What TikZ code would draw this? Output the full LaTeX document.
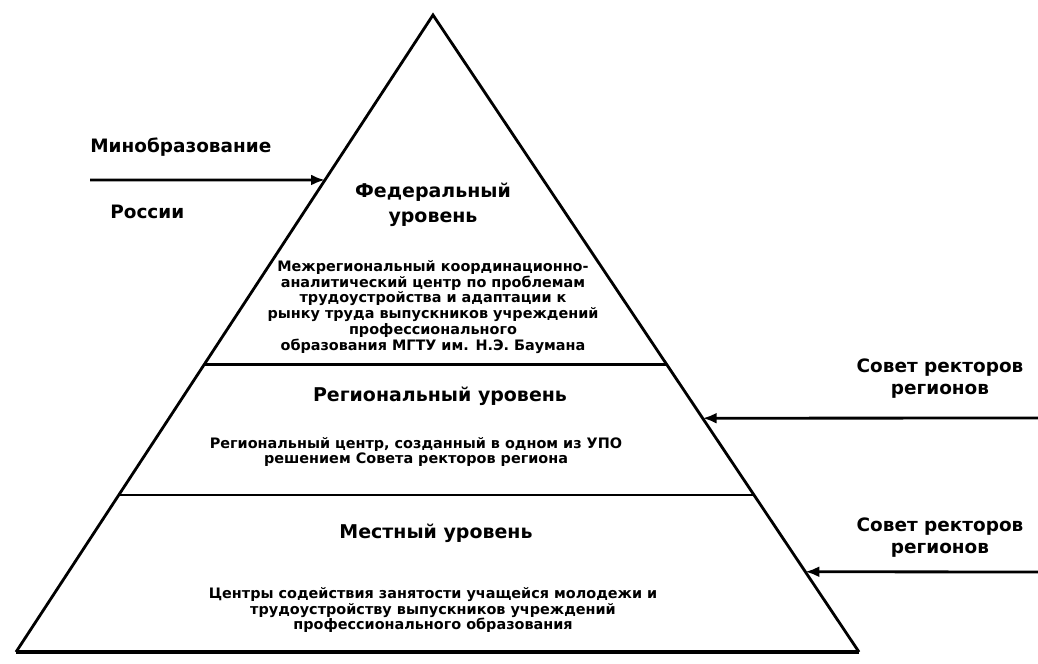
\documentclass[tikz,border=0pt]{standalone}
\usepackage{fontspec}
\setmainfont{DejaVu Sans}
\usetikzlibrary{positioning, arrows.meta, calc}

\begin{document}
\begin{tikzpicture}[x=0.02cm, y=-0.02cm,
        level/.style = {font=\bfseries\fontsize{10.8}{14.2}\selectfont, align=center, inner sep=0pt},%
        info/.style = {font=\bfseries\fontsize{8.2}{9.07}\selectfont, align=center, inner sep=0pt},%
        side/.style = {font=\bfseries\fontsize{10.5}{12.5}\selectfont, align=center, inner sep=0pt},%
        edge/.style = {line width=1.6pt, line join=miter},%
        arrow/.style = {-{Latex[length=2.8mm, width=2.2mm]}, line width=1.6pt}%
    ]%
        \useasboundingbox (0,0) rectangle (1038,663);
        % pyramid
        \coordinate (apex) at (433,15);
        \coordinate (bl) at (16,652);
        \coordinate (br) at (859,652);
        \draw[edge] (bl) -- (apex) -- (br);
        \draw[line width=2.4pt] (bl) -- (br);
        \draw[edge] ($(apex)!0.549!(bl)$) -- ($(apex)!0.549!(br)$);
        \draw[edge] ($(apex)!0.7535!(bl)$) -- ($(apex)!0.7535!(br)$);
        % levels
        \node[level] (fed) at (433,205) {Федеральный\\уровень};
        \node[info] (fedc) at (433,307) {Межрегиональный координационно-\\аналитический центр по проблемам\\трудоустройства и адаптации к\\рынку труда выпускников учреждений\\профессионального\\образования МГТУ им. Н.Э. Баумана};
        \node[level] (reg) at (440,396) {Региональный уровень};
        \node[info] (regc) at (416,452) {Региональный центр, созданный в одном из УПО\\решением Совета ректоров региона};
        \node[level] (loc) at (436,533) {Местный уровень};
        \node[info] (locc) at (433,610) {Центры содействия занятости учащейся молодежи и\\трудоустройству выпускников учреждений\\профессионального образования};
        % sources
        \node[side, anchor=west] (min) at (90,147) {Минобразование};
        \node[side, anchor=west] (rus) at (110,212) {России};
        \node[side] (sov1) at (940,379) {Совет ректоров\\регионов};
        \node[side] (sov2) at (940,538) {Совет ректоров\\регионов};
        \coordinate (a1) at (90,180);
        \coordinate (a2) at (1038,418);
        \coordinate (a3) at (1038,572);
        \draw[arrow] (a1) -- ($(apex)!0.259!(bl)$);
        \draw[arrow] (a2) -- ($(apex)!0.633!(br)$);
        \draw[arrow] (a3) -- ($(apex)!0.874!(br)$);
    \end{tikzpicture}
\end{document}
